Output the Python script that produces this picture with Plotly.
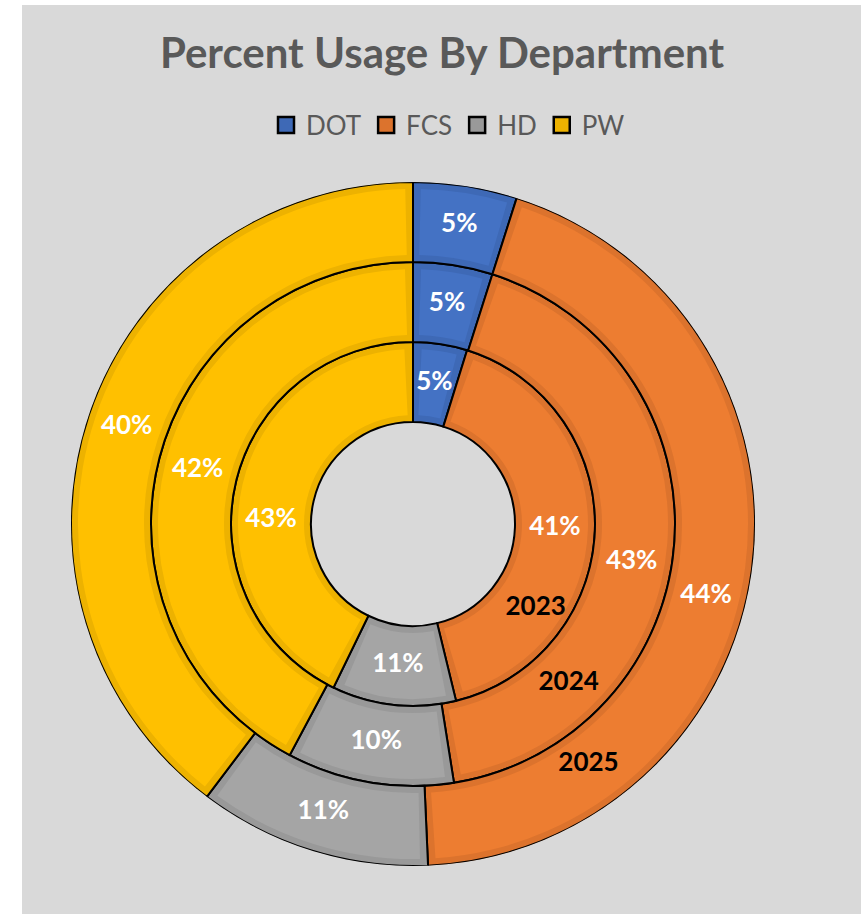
import numpy as np
import plotly.graph_objects as go

# ---------------- data ----------------
years = ["2023", "2024", "2025"]          # inner -> outer ring
departments = ["DOT", "FCS", "HD", "PW"]
dot = [4.8, 4.9, 4.9]
fcs = [41.4, 42.6, 44.4]
hd = [11.0, 10.3, 11.0]
pw = [42.8, 42.2, 39.7]

# ---------------- style ----------------
W, H = 861, 914
CX, CY = 413, 524          # donut centre (px from left / top)
R_MAX = 342                # outer radius in px (radial axis units = px)
RING_INNER = [102, 182, 262]
RING_W = 80
BAND = 7                   # darker inner bevel band width (px)

light = {"DOT": "#4472C4", "FCS": "#ED7D31", "HD": "#A5A5A5", "PW": "#FFC000"}
dark = {"DOT": "#3E69B6", "FCS": "#DC732D", "HD": "#999999", "PW": "#EDB200"}
FONT = "Lato, 'Open Sans', sans-serif"
GREY_TXT = "#595959"

# small angular nudges (deg) for individual data labels, as placed in original
LABEL_NUDGE = {("FCS", 1): 5.7, ("FCS", 2): 6.4, ("PW", 0): -11.7}
YEAR_FRAC = [0.72, 0.77, 0.79]   # position of the year label along the FCS slice
YEAR_R_OFF = [7, 1, -4]

series = {"DOT": dot, "FCS": fcs, "HD": hd, "PW": pw}
vals = np.array([series[d] for d in departments], dtype=float)   # dept x ring
totals = vals.sum(axis=0)
spans = vals / totals * 360.0
starts = np.vstack([np.zeros(3), np.cumsum(spans, axis=0)[:-1]])
mids = starts + spans / 2
inner = np.array(RING_INNER, dtype=float)
rmid = inner + RING_W / 2

fig = go.Figure()

# dark (bevel) layer with black outline
for k, d in enumerate(departments):
    fig.add_trace(go.Barpolar(
        r=[RING_W] * 3, base=inner, theta=mids[k], width=spans[k],
        marker=dict(color=dark[d], line=dict(color="black", width=2)),
        name=d, legendgroup=d, showlegend=False, hoverinfo="skip"))

# light inset layer
for k, d in enumerate(departments):
    inset = np.degrees(BAND / rmid)
    fig.add_trace(go.Barpolar(
        r=[RING_W - 2 * BAND] * 3, base=inner + BAND, theta=mids[k],
        width=spans[k] - 2 * inset,
        marker=dict(color=light[d], line=dict(width=0)),
        name=d, legendgroup=d, showlegend=False, hoverinfo="skip"))

# legend entries (square swatches with black border)
for d in departments:
    fig.add_trace(go.Scatterpolar(
        r=[None], theta=[None], mode="markers", name=d, legendgroup=d,
        marker=dict(symbol="square", size=18, color=dark[d],
                    line=dict(color="black", width=2.5)),
        showlegend=True, hoverinfo="skip"))

# percentage labels
lab_r, lab_t, lab_s = [], [], []
for k, d in enumerate(departments):
    for j in range(3):
        lab_r.append(rmid[j])
        lab_t.append(mids[k, j] + LABEL_NUDGE.get((d, j), 0))
        lab_s.append(f"{round(vals[k, j] / totals[j] * 100):.0f}%")
fig.add_trace(go.Scatterpolar(
    r=lab_r, theta=lab_t, text=lab_s, mode="text",
    textfont=dict(family=FONT, size=26, color="white", weight="bold"),
    showlegend=False, hoverinfo="skip"))

# year (series) labels inside FCS slice
fk = departments.index("FCS")
fig.add_trace(go.Scatterpolar(
    r=rmid + np.array(YEAR_R_OFF), theta=starts[fk] + spans[fk] * np.array(YEAR_FRAC),
    text=years, mode="text",
    textfont=dict(family=FONT, size=26, color="black", weight="bold"),
    showlegend=False, hoverinfo="skip"))

fig.update_layout(
    width=W, height=H,
    margin=dict(l=0, r=0, t=0, b=0),
    paper_bgcolor="#D9D9D9",
    plot_bgcolor="#D9D9D9",
    polar=dict(
        domain=dict(x=[(CX - R_MAX) / W, (CX + R_MAX) / W],
                    y=[(H - CY - R_MAX) / H, (H - CY + R_MAX) / H]),
        bgcolor="rgba(0,0,0,0)",
        barmode="overlay",
        radialaxis=dict(range=[0, R_MAX], visible=False),
        angularaxis=dict(rotation=90, direction="clockwise", visible=False,
                         showgrid=False, showline=False, showticklabels=False),
    ),
    title=dict(text="Percent Usage By Department", x=442 / W, xanchor="center",
               y=1 - 53 / H, yanchor="middle",
               font=dict(family=FONT, size=42, color=GREY_TXT, weight="bold")),
    legend=dict(orientation="h", x=448 / W, xanchor="center", y=1 - 125 / H,
                yanchor="middle", bgcolor="rgba(0,0,0,0)", itemsizing="trace",
                font=dict(family=FONT, size=26, color=GREY_TXT), traceorder="normal"),
    shapes=[
        dict(type="rect", xref="paper", yref="paper", x0=0, x1=22 / W, y0=0, y1=1,
             fillcolor="white", line=dict(width=0), layer="below"),
        dict(type="rect", xref="paper", yref="paper", x0=0, x1=1, y0=1 - 5 / H, y1=1,
             fillcolor="white", line=dict(width=0), layer="below"),
    ],
)

fig.write_html("out.html")
